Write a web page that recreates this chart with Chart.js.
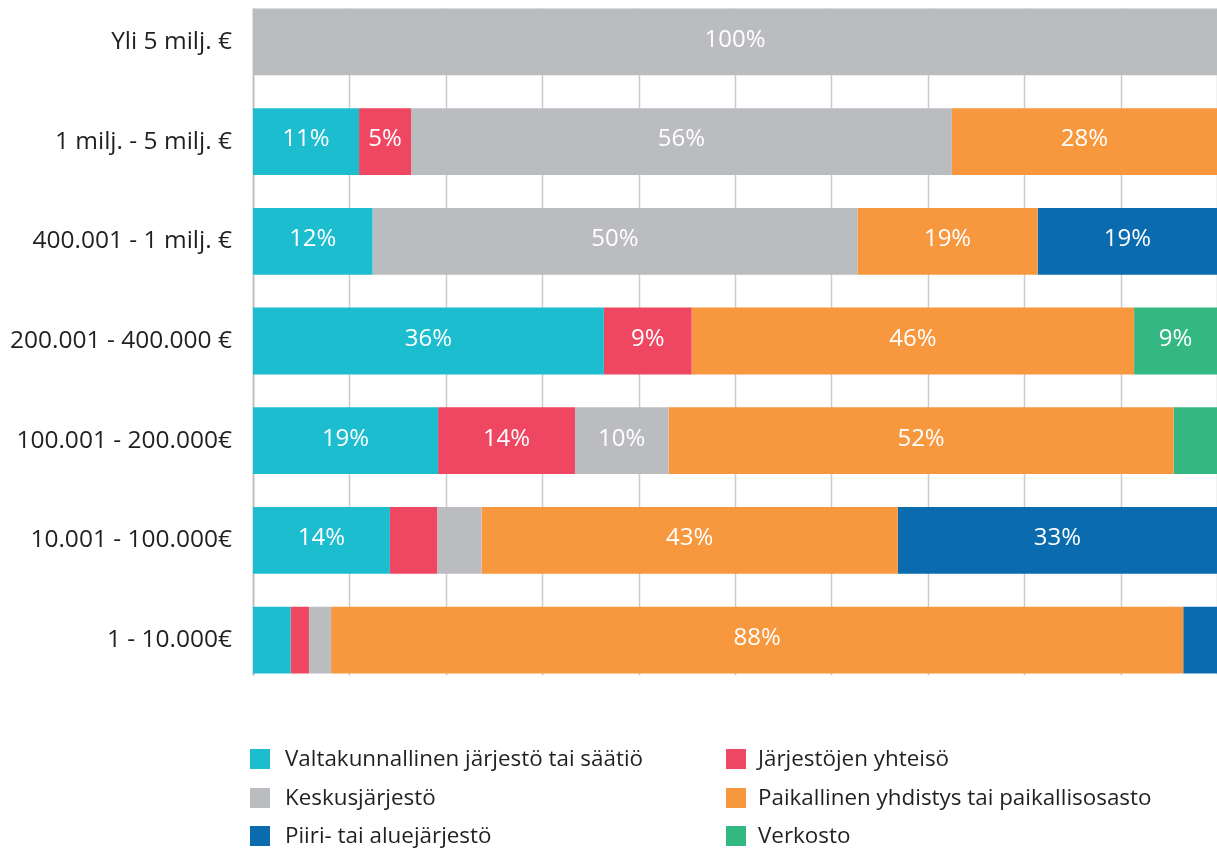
<!DOCTYPE html>
<html>
<head>
<meta charset="utf-8">
<script src="https://cdn.jsdelivr.net/npm/chart.js@4.4.1/dist/chart.umd.min.js"></script>
<style>
  html, body { margin: 0; padding: 0; background: #fff; width: 1217px; height: 849px; overflow: hidden; position: relative; }
  #wrap { position: absolute; left: 0; top: -8px; width: 1217px; height: 698px; }
  #legend { position: absolute; left: 0; top: 0; width: 1217px; height: 849px; pointer-events: none; }
  .box { position: absolute; width: 20px; height: 20px; }
  .txt { position: absolute; font-family: "Open Sans", sans-serif; font-size: 22.4px; line-height: 24px; color: #231f20; white-space: nowrap; }
</style>
</head>
<body>
<div id="wrap"><canvas id="c"></canvas></div>
<div id="legend"></div>
<script>
const categories = ["Yli 5 milj. €", "1 milj. - 5 milj. €", "400.001 - 1 milj. €", "200.001 - 400.000 €", "100.001 - 200.000€", "10.001 - 100.000€", "1 - 10.000€"];
const seriesNames = ["Valtakunnallinen järjestö tai säätiö", "Järjestöjen yhteisö", "Keskusjärjestö", "Paikallinen yhdistys tai paikallisosasto", "Piiri- tai aluejärjestö", "Verkosto"];
const valtakunnallinen = [0, 11.0, 12.4, 36.4, 19.2, 14.2, 3.9];
const yhteiso          = [0, 5.4, 0, 9.1, 14.2, 4.9, 1.9];
const keskus           = [100, 56.1, 50.3, 0, 9.7, 4.6, 2.3];
const paikallinen      = [0, 27.5, 18.7, 45.9, 52.4, 43.2, 88.4];
const piiri            = [0, 0, 18.6, 0, 0, 33.1, 3.5];
const verkosto         = [0, 0, 0, 8.6, 4.5, 0, 0];
const colors = ["#1dbdd0", "#ef4761", "#bbbcc0", "#f7983e", "#0a6bae", "#34b882"];
const seriesValues = [valtakunnallinen, yhteiso, keskus, paikallinen, piiri, verkosto];
const xTicks = [0, 10, 20, 30, 40, 50, 60, 70, 80, 90, 100];

const barLabels = {
  id: 'barLabels',
  afterDatasetsDraw(chart) {
    const ctx = chart.ctx;
    ctx.save();
    ctx.font = '24px "Open Sans", sans-serif';
    ctx.fillStyle = '#ffffff';
    ctx.textAlign = 'center';
    ctx.textBaseline = 'middle';
    chart.data.datasets.forEach((ds, i) => {
      const meta = chart.getDatasetMeta(i);
      meta.data.forEach((el, j) => {
        const v = ds.data[j];
        if (v >= 5) {
          const cx = (el.x + el.base) / 2;
          ctx.fillText(Math.round(v) + '%', cx, el.y - 2);
        }
      });
    });
    ctx.restore();
  }
};

const gridLines = {
  id: 'gridLines',
  beforeDatasetsDraw(chart) {
    const ctx = chart.ctx;
    const xs = chart.scales.x;
    const first = chart.getDatasetMeta(0).data[0];
    const last = chart.getDatasetMeta(0).data[categories.length - 1];
    const top = first.y - first.height / 2;
    const bottom = last.y + last.height / 2 + 2;
    ctx.save();
    xTicks.forEach((t, i) => {
      const x = Math.round(xs.getPixelForValue(t)) + 0.5;
      ctx.strokeStyle = i === 0 ? '#bfbfbf' : '#cccccc';
      ctx.lineWidth = i === 0 ? 2 : 1.5;
      ctx.beginPath();
      ctx.moveTo(x, top);
      ctx.lineTo(x, bottom);
      ctx.stroke();
    });
    ctx.restore();
  }
};

const legendEl = document.getElementById('legend');
seriesNames.forEach((name, i) => {
  const col = i % 2, row = Math.floor(i / 2);
  const top = 749 + row * 38.5;
  const b = document.createElement('div');
  b.className = 'box';
  b.style.left = (col === 0 ? 250 : 726) + 'px';
  b.style.top = top + 'px';
  b.style.background = colors[i];
  const t = document.createElement('div');
  t.className = 'txt';
  t.style.left = (col === 0 ? 285 : 758) + 'px';
  t.style.top = (top - 3) + 'px';
  t.textContent = name;
  legendEl.appendChild(b); legendEl.appendChild(t);
});

new Chart(document.getElementById('c'), {
  type: 'bar',
  data: {
    labels: categories,
    datasets: seriesNames.map((n, i) => ({
      label: n,
      data: seriesValues[i],
      backgroundColor: colors[i],
      borderWidth: 0,
      barPercentage: 0.67,
      categoryPercentage: 1.0
    }))
  },
  options: {
    indexAxis: 'y',
    responsive: true,
    maintainAspectRatio: false,
    animation: false,
    layout: { padding: 0 },
    plugins: { legend: { display: false }, tooltip: { enabled: false } },
    scales: {
      x: {
        display: false,
        stacked: true, min: 0, max: 100,
        ticks: { stepSize: 10 }
      },
      y: {
        stacked: true,
        ticks: { color: '#231f20', font: { family: '"Open Sans", sans-serif', size: 24.5 }, padding: 21 },
        grid: { display: false, drawTicks: false },
        border: { display: false },
        afterFit(scale) { scale.width = 253; scale.paddingTop = 0; scale.paddingBottom = 0; }
      }
    }
  },
  plugins: [gridLines, barLabels]
});
</script>
</body>
</html>
